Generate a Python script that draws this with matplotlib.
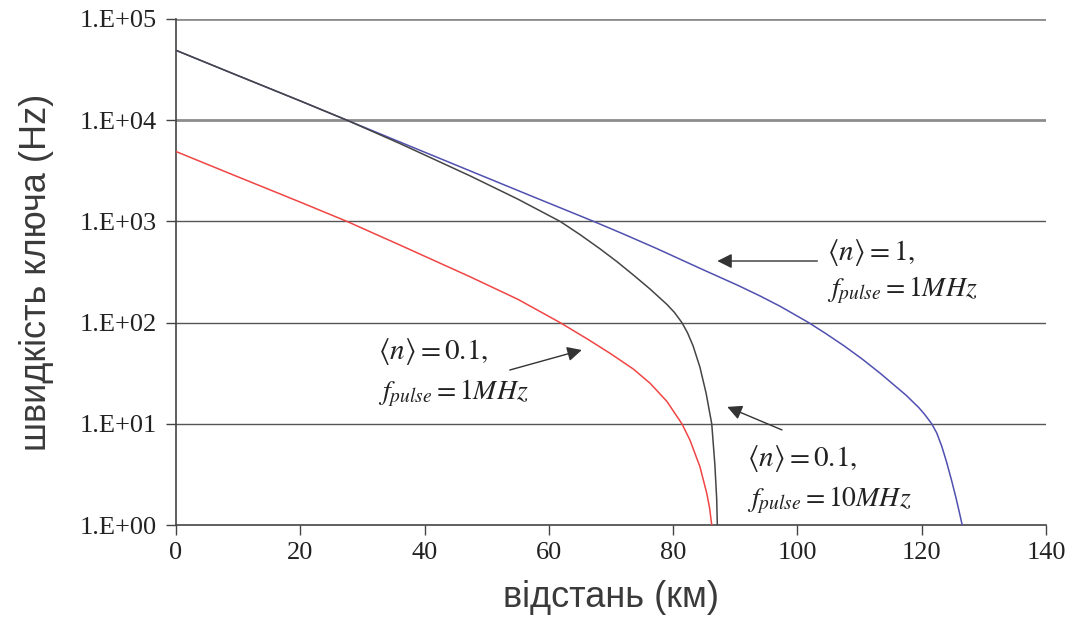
import matplotlib
matplotlib.use("Agg")
import matplotlib.pyplot as plt
from matplotlib.ticker import FixedLocator, FixedFormatter, NullLocator

# key rate vs distance
# <n> = 1, f_pulse = 1 MHz
km_blue = [0, 10, 20, 27.5, 37, 47.3, 57, 67.2, 72, 77.3, 84.3, 90.5, 94, 97.2,
           101.8, 104.6, 107.5, 110.4, 113.3, 117.5, 119.5, 120.5, 121.6, 122.4,
           123.2, 124, 124.8, 125.5, 126.1, 126.5]
rate_blue = [49000, 27500, 15500, 10000, 5750, 3160, 1800, 1000, 750, 541, 344,
             232, 183, 145, 100, 77.6, 58.9, 43.7, 31.6, 19.1, 14.5, 12.3, 10,
             8.13, 6.03, 4.17, 2.75, 1.86, 1.29, 1.0]

# <n> = 0.1, f_pulse = 10 MHz
km_black = [0, 10, 20, 27.5, 36, 47.3, 55, 61.8, 65, 68.2, 71, 73.6, 76.3, 79,
            80.2, 81.4, 82.3, 83.2, 84.3, 85.3, 86.2, 86.7, 87.0, 87.1]
rate_black = [49000, 27500, 15500, 10000, 5890, 2820, 1660, 1000, 741, 537,
              398, 295, 214, 151, 126, 100, 79.4, 58.9, 36.3, 20.0, 10, 4.0,
              1.8, 1.0]

# <n> = 0.1, f_pulse = 1 MHz
km_red = [0, 10, 20, 27.5, 36, 47.3, 55, 61.8, 66.4, 70, 73.6, 76.3, 79, 81.4,
          82.7, 84.3, 85.4, 85.85, 86.2]
rate_red = [4900, 2750, 1550, 1000, 585, 284, 170, 100, 67.6, 49.0, 34.7,
            25.1, 16.6, 10, 6.9, 3.77, 2.06, 1.48, 1.0]

x_ticks = [0, 20, 40, 60, 80, 100, 120, 140]
y_ticks = [1, 10, 100, 1000, 10000, 100000]
y_tick_labels = ["1.E+00", "1.E+01", "1.E+02", "1.E+03", "1.E+04", "1.E+05"]

x_label = "відстань (км)"
y_label = "швидкість ключа (Hz)"

# annotations: two text lines, text anchor (x, y line 1, y line 2), arrow tail and head
notes = [
    (r"$\langle n\rangle = 1,$", r"$f_{pulse} = 1MHz$", (104.8, 488, 210), (103.2, 406), (87.1, 406)),
    (r"$\langle n\rangle = 0.1,$", r"$f_{pulse} = 1MHz$", (32.5, 52, 20.1), (53.7, 34), (65.3, 53.6)),
    (r"$\langle n\rangle = 0.1,$", r"$f_{pulse} = 10MHz$", (91.9, 4.5, 1.77), (97.5, 8.7), (88.7, 14.7)),
]

plt.rcParams['mathtext.fontset'] = 'stix'

fig = plt.figure(figsize=(10.74, 6.33), dpi=100)
ax = fig.add_axes([0.1639, 0.1706, 0.974 - 0.1639, 0.97 - 0.1706])

ax.set_yscale("log")
ax.set_xlim(0, 140)
ax.set_ylim(1, 100000)

# horizontal grid lines
for v in y_ticks[1:]:
    if v >= 10000:
        ax.axhline(v, color="#8c8c8c", lw=2.0, zorder=1)
    else:
        ax.axhline(v, color="#555555", lw=1.0, zorder=1)

ax.plot(km_blue, rate_blue, color="#5050b0", lw=1.1, zorder=3)
ax.plot(km_black, rate_black, color="#454545", lw=1.1, zorder=3)
ax.plot(km_red, rate_red, color="#f04545", lw=1.1, zorder=3)

for line1, line2, (tx, ty1, ty2), tail, head in notes:
    ax.text(tx, ty1, line1, fontsize=21, ha="left", va="center", color="#222222")
    ax.text(tx, ty2, line2, fontsize=20, ha="left", va="center", color="#222222")
    ax.annotate("", xy=head, xytext=tail,
                arrowprops=dict(arrowstyle="-|>", color="#333333", lw=1.0,
                                mutation_scale=22, shrinkA=0, shrinkB=0))

for side in ["top", "right"]:
    ax.spines[side].set_visible(False)
for side in ["left", "bottom"]:
    ax.spines[side].set_color("#444444")
    ax.spines[side].set_linewidth(1.2)

ax.xaxis.set_major_locator(FixedLocator(x_ticks))
ax.yaxis.set_major_locator(FixedLocator(y_ticks))
ax.yaxis.set_major_formatter(FixedFormatter(y_tick_labels))
ax.yaxis.set_minor_locator(NullLocator())
ax.tick_params(axis="both", direction="out", length=7, width=1, color="#444444",
               labelsize=19, labelcolor="#222222")
ax.tick_params(axis="y", pad=7)
ax.tick_params(axis="x", pad=5)
for lab in ax.get_xticklabels() + ax.get_yticklabels():
    lab.set_fontfamily("Liberation Serif")

ax.set_xlabel(x_label, fontsize=26, color="#3a3a3a", family="Liberation Sans", labelpad=12)
ax.set_ylabel(y_label, fontsize=26, color="#3a3a3a", family="Liberation Sans", labelpad=18)

fig.savefig("out.png", dpi=100)
